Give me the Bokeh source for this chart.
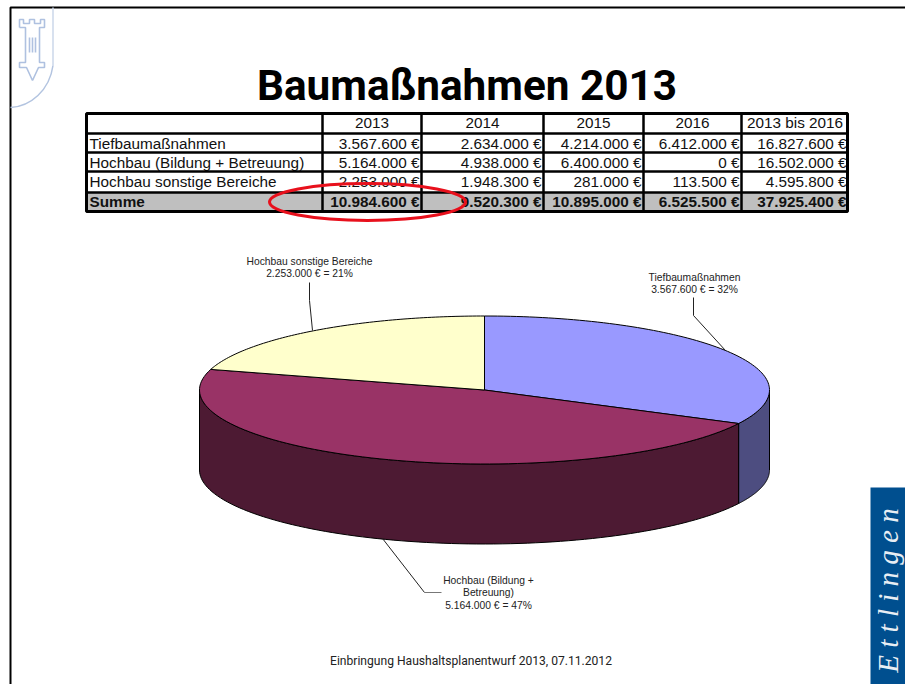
import math
from bokeh.plotting import figure
from bokeh.embed import file_html
from bokeh.resources import INLINE
from bokeh.core.properties import value

# ---- data ----
title = "Baumaßnahmen 2013"
footer = "Einbringung Haushaltsplanentwurf 2013, 07.11.2012"
brand = "E t t l i n g e n"
columns = ["2013", "2014", "2015", "2016", "2013 bis 2016"]
rows = ["Tiefbaumaßnahmen", "Hochbau (Bildung + Betreuung)", "Hochbau sonstige Bereiche", "Summe"]
row_tief = ["3.567.600 €", "2.634.000 €", "4.214.000 €", "6.412.000 €", "16.827.600 €"]
row_hoch = ["5.164.000 €", "4.938.000 €", "6.400.000 €", "0 €", "16.502.000 €"]
row_sonst = ["2.253.000 €", "1.948.300 €", "281.000 €", "113.500 €", "4.595.800 €"]
row_sum = ["10.984.600 €", "9.520.300 €", "10.895.000 €", "6.525.500 €", "37.925.400 €"]
pie_values = [3567600, 5164000, 2253000]
pie_labels = [["Tiefbaumaßnahmen", "3.567.600 € = 32%"],
              ["Hochbau (Bildung +", "Betreuung)", "5.164.000 € = 47%"],
              ["Hochbau sonstige Bereiche", "2.253.000 € = 21%"]]
top_colors = ["#9999FF", "#993366", "#FFFFCC"]
side_colors = ["#4D4D80", "#4D1A33", "#808066"]

# ---- layout (page pixels) ----
W, H = 905, 684
p = figure(width=W, height=H, x_range=(0, W), y_range=(H, 0),
           output_backend="svg", toolbar_location=None, min_border=0,
           outline_line_color=None, background_fill_color="white", border_fill_color="white")
p.axis.visible = False
p.grid.visible = False

# slide frame
p.line([10, 10, W], [H, 7, 7], line_color="black", line_width=2)

# crest
crest = "#AFC1E0"
p.line([52.5, 52.5], [7, 65], line_color="#CBD7EA", line_width=1.5)
p.bezier(x0=[52.5], y0=[65], x1=[10], y1=[107], cx0=[49], cy0=[90], cx1=[30], cy1=[106],
         line_color="#B3C4E0", line_width=1.5)
p.multi_line(
    [[19, 19, 23, 23, 29, 29, 34, 34, 40, 40, 44, 44, 39, 39, 44, 44, 38, 32, 26, 19, 19, 25, 25, 19],
     [29, 29], [32, 32], [35, 35]],
    [[27, 19, 19, 23, 23, 19, 19, 23, 23, 19, 19, 27, 27, 62, 62, 67, 67, 80, 67, 67, 62, 62, 27, 27],
     [37, 52], [37, 52], [37, 52]],
    line_color=crest, line_width=1.6)

# title
p.text([466.5], [85], text=[title], text_font=value("Roboto"), text_font_style="bold",
       text_font_size="42.3px", text_align="center", text_baseline="middle", text_color="black")

# table
col_edges = [85, 322, 421, 543, 643, 741, 848]
row_edges = [112, 133, 152, 171, 192, 212]
p.quad(left=[col_edges[0]], right=[col_edges[-1]], top=[row_edges[4]], bottom=[row_edges[5]],
       fill_color="#BFBFBF", line_color=None)
tbl = dict(text_font=value("Liberation Sans"), text_baseline="middle", text_color="#111111")
row_y = [143, 162, 181, 201]
bodies = [row_tief, row_hoch, row_sonst, row_sum]
for ry, name, body in zip(row_y, rows, bodies):
    bold = name == "Summe"
    st = "bold" if bold else "normal"
    p.text([89], [ry], text=[name], text_align="left", text_font_size="15.3px", text_font_style=st, **tbl)
    p.text([e - 2 for e in col_edges[2:]], [ry] * 5, text=body, text_align="right",
           text_font_size="15.3px", text_font_style=st, **tbl)
p.text([(a + b) / 2 for a, b in zip(col_edges[1:-1], col_edges[2:])], [122] * 5, text=columns,
       text_align="center", text_font_size="15.3px", **tbl)
p.multi_line([[x, x] for x in col_edges[1:-1]], [[row_edges[0], row_edges[-1]]] * 5,
             line_color="black", line_width=2.5)
p.multi_line([[col_edges[0], col_edges[-1]]] * 4, [[y, y] for y in row_edges[1:-1]],
             line_color="black", line_width=2.5)
p.quad(left=[col_edges[0] + 1], right=[col_edges[-1] - 1], top=[row_edges[0] + 1], bottom=[row_edges[-1] - 1],
       fill_color=None, line_color="black", line_width=3)

# red highlight
p.ellipse([367], [201.5], width=[196], height=[37], fill_color=None, line_color="#E8101C", line_width=3)

# 3D pie
cx, cy, rx, ry_, depth = 484, 389.5, 285, 74, 80
def pt(theta, dy=0):
    return cx + rx * math.sin(theta), cy - ry_ * math.cos(theta) + dy
total = sum(pie_values)
a = 0
angles = []
for v in pie_values:
    b = a + v / total * 2 * math.pi
    angles.append((a, b))
    a = b
def arc(a0, a1, dy=0, n=90):
    return [pt(a0 + (a1 - a0) * i / n, dy) for i in range(n + 1)]
for (a0, a1), col in zip(angles, side_colors):
    s0, s1 = max(a0, math.pi / 2), min(a1, 3 * math.pi / 2)
    if s1 > s0:
        pts = arc(s0, s1) + arc(s1, s0, depth)
        p.patch([q[0] for q in pts], [q[1] for q in pts], fill_color=col, line_color="black", line_width=1)
for (a0, a1), col in zip(angles, top_colors):
    pts = [(cx, cy)] + arc(a0, a1)
    p.patch([q[0] for q in pts], [q[1] for q in pts], fill_color=col, line_color="black", line_width=1)

# leaders and labels
p.multi_line([[693, 693, 725], [309, 309, 312], [382, 424]], [[297, 315, 350], [282, 300, 330], [538, 592]],
             line_color="#222222", line_width=1)
p.line([424, 441], [592, 592], line_color="#777777", line_width=1)
label_pos = [(694, 276.5), (488, 579.5), (309, 260.5)]
for (lx, ly), lines in zip(label_pos, pie_labels):
    p.text([lx] * len(lines), [ly + i * 12.6 for i in range(len(lines))], text=lines,
           text_font=value("Liberation Sans"), text_font_size="10.3px", text_align="center",
           text_baseline="middle", text_color="#222222")

# footer
p.text([470.5], [660], text=[footer], text_font=value("Roboto"), text_font_size="12.1px",
       text_align="center", text_baseline="middle", text_color="#222222")

# brand block
p.quad(left=[870], right=[W], top=[487], bottom=[H], fill_color="#004F8F", line_color=None)
p.text([887.5], [590], text=[brand], angle=[math.pi / 2], text_font=value("Liberation Serif"),
       text_font_style="italic", text_font_size="29px", text_align="center", text_baseline="middle",
       text_color="#E8EEF4")

open("out.html", "w").write(file_html(p, INLINE))
